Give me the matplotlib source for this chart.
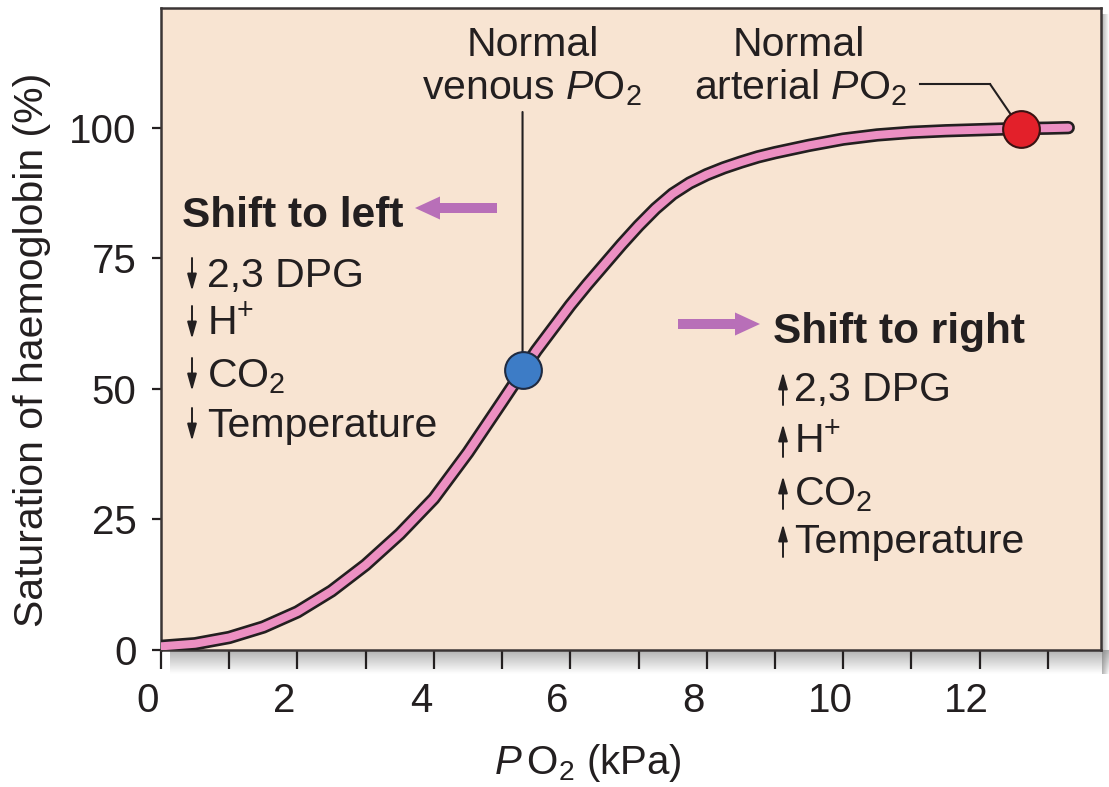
import numpy as np
import matplotlib
matplotlib.use('Agg')
import matplotlib.pyplot as plt
import matplotlib.patheffects as pe
import matplotlib.transforms as mtrans
from matplotlib.lines import Line2D
from matplotlib.patches import FancyArrowPatch

plt.rcParams['font.family'] = ['Liberation Sans', 'DejaVu Sans']
plt.rcParams['mathtext.fontset'] = 'custom'
plt.rcParams['mathtext.rm'] = 'Liberation Sans'
plt.rcParams['mathtext.it'] = 'Liberation Sans:italic'
plt.rcParams['mathtext.bf'] = 'Liberation Sans:bold'

# --- data ---
po2_kpa = [0, 0.5, 1, 1.5, 2, 2.5, 3, 3.5, 4, 4.5, 5, 5.5, 6, 6.25, 6.5,
           6.75, 7, 7.25, 7.5, 7.75, 8, 8.25, 8.5, 8.75, 9, 9.5, 10, 10.5,
           11, 11.5, 12, 12.5, 13, 13.3]
saturation = [0.7, 1.2, 2.4, 4.4, 7.3, 11.3, 16.3, 22.2, 29.0, 37.8, 47.5,
              57.3, 66.0, 70.0, 73.8, 77.6, 81.2, 84.5, 87.3, 89.4, 91.0,
              92.3, 93.4, 94.4, 95.2, 96.6, 97.8, 98.6, 99.1, 99.4, 99.6,
              99.8, 99.9, 100.0]

venous_po2, venous_sat = 5.3, 53.6
arterial_po2, arterial_sat = 12.6, 99.8

x_major = [0, 2, 4, 6, 8, 10, 12]
x_minor = [1, 3, 5, 7, 9, 11, 13]
y_major = [0, 25, 50, 75, 100]

factors = ['2,3 DPG', r'H$^{+}$', r'CO$_{2}$', 'Temperature']

# --- colours ---
PEACH = '#f8e4d2'
PINK = '#ec8fc2'
DARK = '#231f20'
MAUVE = '#b86fb8'
BLUE = '#3d7cc6'
RED = '#e3202a'

W, H = 1109, 787
fig = plt.figure(figsize=(W / 100, H / 100), dpi=100)
fig.patch.set_facecolor('white')


def fp(x, y):
    # image pixel -> figure fraction
    return (x / W, 1 - y / H)


# soft drop shadow under / right of the panel
def shadow(rect, vertical):
    sax = fig.add_axes(rect, zorder=-1)
    n = 64
    rgba = np.zeros((n, 1, 4)) if vertical else np.zeros((1, n, 4))
    alpha = np.linspace(0.55, 0.0, n)
    if vertical:
        rgba[:, 0, :3] = 0.45
        rgba[:, 0, 3] = alpha
    else:
        rgba[0, :, :3] = 0.45
        rgba[0, :, 3] = alpha
    sax.imshow(rgba, aspect='auto', interpolation='bilinear')
    sax.axis('off')


shadow([170 / W, 1 - 674 / H, (W - 170) / W, 24 / H], vertical=True)
shadow([1102 / W, 1 - 674 / H, 7 / W, 660 / H], vertical=False)

ax = fig.add_axes([161 / W, 1 - 650 / H, 940 / W, 642 / H])
ax.set_facecolor(PEACH)
ax.set_xlim(0, 13.78)
ax.set_ylim(0, 122.9)

for sp in ax.spines.values():
    sp.set_linewidth(1.8)
    sp.set_color('#3b3535')

ax.set_xticks(x_major)
ax.set_xticks(x_minor, minor=True)
ax.set_yticks(y_major)
ax.tick_params(axis='x', which='both', direction='out', length=14, width=1.6,
               color=DARK, labelsize=29, pad=9, labelcolor=DARK)
ax.tick_params(axis='y', which='both', direction='out', length=6.5, width=1.6,
               color=DARK, labelsize=29, pad=11, labelcolor=DARK)
shift = mtrans.ScaledTranslation(-13 / 100, 0, fig.dpi_scale_trans)
for lab in ax.get_xticklabels():
    lab.set_transform(lab.get_transform() + shift)

# curve: pink core with dark outline
ax.plot(po2_kpa, saturation, color=PINK, lw=5.8, solid_capstyle='round',
        solid_joinstyle='round', zorder=3,
        path_effects=[pe.Stroke(linewidth=9.6, foreground=DARK), pe.Normal()])

# leader lines
ax.annotate('', xy=(venous_po2, venous_sat), xycoords='data',
            xytext=(venous_po2, 1 - 112 / H), textcoords=('data', 'figure fraction'),
            arrowprops=dict(arrowstyle='-', lw=1.5, color=DARK, shrinkA=0, shrinkB=0),
            zorder=4)
ax.annotate('', xy=(arterial_po2, arterial_sat), xycoords='data',
            xytext=fp(990, 84), textcoords='figure fraction',
            arrowprops=dict(arrowstyle='-', lw=1.5, color=DARK, shrinkA=0, shrinkB=0),
            zorder=4)
fig.add_artist(Line2D([920 / W, 990 / W], [1 - 84 / H, 1 - 84 / H],
                      transform=fig.transFigure, lw=1.5, color=DARK))

# points
ax.scatter([venous_po2], [venous_sat], s=700, color=BLUE, edgecolor='#1f2a40',
           lw=1.5, zorder=5)
ax.scatter([arterial_po2], [arterial_sat], s=700, color=RED, edgecolor='#3a1212',
           lw=1.5, zorder=5)

TXT = 29.5
BOLD = 30.5
# top labels
fig.text(*fp(533, 56), 'Normal', ha='center', va='baseline', fontsize=TXT, color=DARK)
fig.text(*fp(532, 99), r'venous $\mathit{P}\mathrm{O}_{2}$', ha='center', va='baseline',
         fontsize=TXT, color=DARK)
fig.text(*fp(799, 56), 'Normal', ha='center', va='baseline', fontsize=TXT, color=DARK)
fig.text(*fp(800, 99), r'arterial $\mathit{P}\mathrm{O}_{2}$', ha='center', va='baseline',
         fontsize=TXT, color=DARK)


def big_arrow(tail, tip):
    fig.add_artist(FancyArrowPatch(fp(*tail), fp(*tip), transform=fig.transFigure,
                                   arrowstyle='simple,head_length=0.9,head_width=0.83,tail_width=0.36',
                                   mutation_scale=20, color=MAUVE, lw=0,
                                   shrinkA=0, shrinkB=0))


def small_arrow(x, y0, y1):
    fig.add_artist(FancyArrowPatch(fp(x, y0), fp(x, y1), transform=fig.transFigure,
                                   arrowstyle='-|>,head_length=0.5,head_width=0.14',
                                   mutation_scale=20, color=DARK, lw=1.4,
                                   shrinkA=0, shrinkB=0))


# shift to left block
fig.text(*fp(182, 227), 'Shift to left', ha='left', va='baseline', fontsize=BOLD,
         fontweight='bold', color=DARK)
big_arrow((497, 208), (415, 208))
left_base = [287, 335, 387, 437]
for lab, b in zip(factors, left_base):
    small_arrow(192, b - 29, b + 4)
    fig.text(*fp(207, b), lab, ha='left', va='baseline', fontsize=TXT, color=DARK)

# shift to right block
fig.text(*fp(773, 343), 'Shift to right', ha='left', va='baseline', fontsize=BOLD,
         fontweight='bold', color=DARK)
big_arrow((678, 324), (760, 324))
right_base = [401, 453, 505, 553]
for lab, b in zip(factors, right_base):
    small_arrow(783, b + 4, b - 29)
    fig.text(*fp(794, b), lab, ha='left', va='baseline', fontsize=TXT, color=DARK)

# axis labels
fig.text(*fp(588, 774), r'$\mathit{P}\,\mathrm{O}_{2}$ (kPa)', ha='center', va='baseline',
         fontsize=29, color=DARK)
fig.text(*fp(43, 350), 'Saturation of haemoglobin (%)', rotation=90,
         rotation_mode='anchor', ha='center', va='baseline', fontsize=29.5, color=DARK)

fig.savefig('out.png', dpi=100, facecolor='white')
